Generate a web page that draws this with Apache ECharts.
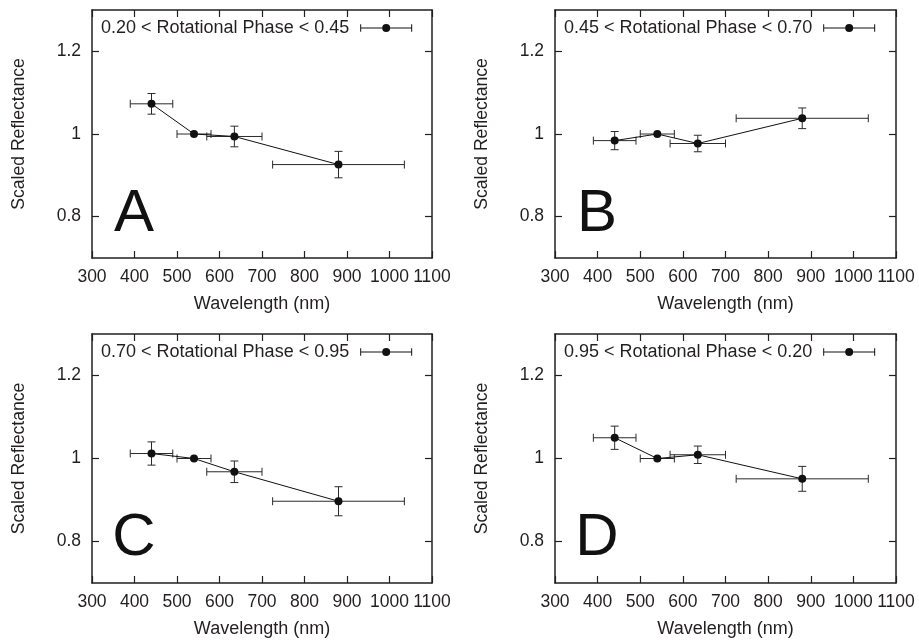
<!DOCTYPE html>
<html>
<head>
<meta charset="utf-8">
<script src="https://cdn.jsdelivr.net/npm/echarts@6/dist/echarts.min.js"></script>
<style>
html,body{margin:0;padding:0;background:#fff;}
#chart{width:919px;height:641px;}
</style>
</head>
<body>
<div id="chart"></div>
<script>
// ---- data ----
var wavelength = [440, 540, 635, 880];
var bandLow    = [390, 500, 570, 725];
var bandHigh   = [490, 580, 700, 1035];

var phaseLabels = [
  "0.20 < Rotational Phase < 0.45",
  "0.45 < Rotational Phase < 0.70",
  "0.70 < Rotational Phase < 0.95",
  "0.95 < Rotational Phase < 0.20"
];
var panelLetters = ["A", "B", "C", "D"];

var reflA = [1.073, 1.000, 0.994, 0.926];
var errA  = [0.025, 0.000, 0.025, 0.032];
var reflB = [0.984, 1.000, 0.977, 1.038];
var errB  = [0.022, 0.000, 0.020, 0.025];
var reflC = [1.012, 1.000, 0.968, 0.897];
var errC  = [0.028, 0.000, 0.026, 0.035];
var reflD = [1.050, 1.000, 1.009, 0.951];
var errD  = [0.028, 0.000, 0.021, 0.030];

var xTicks = [300, 400, 500, 600, 700, 800, 900, 1000, 1100];
var yTicks = [0.8, 1.0, 1.2];

var reflAll = [reflA, reflB, reflC, reflD];
var errAll  = [errA, errB, errC, errD];

// ---- layout ----
var FONT = '"Liberation Sans", Arial, Helvetica, sans-serif';
var INK = '#231f20';
var grids = [
  {left: 92,  top: 10,  width: 340, height: 248},
  {left: 555, top: 10,  width: 341, height: 248},
  {left: 92,  top: 334, width: 340, height: 249},
  {left: 555, top: 334, width: 341, height: 249}
];

var legendIcon = 'path://M0 0.2L1 0.2L1 7.8L0 7.8Z M0 3.5L22.5 3.5L22.5 4.5L0 4.5Z M29.5 3.5L52 3.5L52 4.5L29.5 4.5Z M51 0.2L52 0.2L52 7.8L51 7.8Z M22 4A4 4 0 1 1 30 4A4 4 0 1 1 22 4Z';

var option = {
  animation: false,
  backgroundColor: '#fff',
  textStyle: {fontFamily: FONT, color: INK},
  grid: [], xAxis: [], yAxis: [], series: [], legend: [], graphic: []
};

function errRender(params, api) {
  var x = api.value(0), y = api.value(1);
  var xl = api.value(2), xh = api.value(3), e = api.value(4);
  var c = api.coord([x, y]);
  var pl = api.coord([xl, y]), ph = api.coord([xh, y]);
  var pt = api.coord([x, y + e]), pb = api.coord([x, y - e]);
  var cap = 4;
  var st = {stroke: '#2a2a2a', lineWidth: 1, fill: null};
  var kids = [
    {type: 'line', shape: {x1: pl[0], y1: c[1], x2: ph[0], y2: c[1]}, style: st},
    {type: 'line', shape: {x1: pl[0], y1: c[1] - cap, x2: pl[0], y2: c[1] + cap}, style: st},
    {type: 'line', shape: {x1: ph[0], y1: c[1] - cap, x2: ph[0], y2: c[1] + cap}, style: st}
  ];
  if (e > 0) {
    kids.push({type: 'line', shape: {x1: c[0], y1: pt[1], x2: c[0], y2: pb[1]}, style: st});
    kids.push({type: 'line', shape: {x1: c[0] - cap, y1: pt[1], x2: c[0] + cap, y2: pt[1]}, style: st});
    kids.push({type: 'line', shape: {x1: c[0] - cap, y1: pb[1], x2: c[0] + cap, y2: pb[1]}, style: st});
  }
  return {type: 'group', children: kids};
}

var axisLineStyle = {color: INK, width: 1.5};

for (var i = 0; i < 4; i++) {
  var g = grids[i];
  option.grid.push({left: g.left, top: g.top, width: g.width, height: g.height, containLabel: false});

  // bottom x axis
  option.xAxis.push({
    type: 'value', gridIndex: i, min: 300, max: 1100, interval: 100, position: 'bottom',
    name: 'Wavelength (nm)', nameLocation: 'middle', nameGap: 37,
    nameTextStyle: {fontSize: 18, color: INK, fontFamily: FONT},
    axisLine: {show: true, onZero: false, lineStyle: axisLineStyle},
    axisTick: {show: true, inside: true, length: 7, lineStyle: {color: INK, width: 1.2}},
    axisLabel: {fontSize: 17.5, color: INK, margin: 10, fontFamily: FONT,
      customValues: xTicks, hideOverlap: false, showMinLabel: true, showMaxLabel: true,
      formatter: function (v) { return String(v); }},
    splitLine: {show: false}
  });
  // top mirror axis
  option.xAxis.push({
    type: 'value', gridIndex: i, min: 300, max: 1100, interval: 100, position: 'top',
    axisLine: {show: true, onZero: false, lineStyle: axisLineStyle},
    axisTick: {show: true, inside: true, length: 7, lineStyle: {color: INK, width: 1.2}},
    axisLabel: {show: false},
    splitLine: {show: false}
  });
  // left y axis
  option.yAxis.push({
    type: 'value', gridIndex: i, min: 0.7, max: 1.3, position: 'left',
    name: 'Scaled Reflectance', nameLocation: 'middle', nameGap: 64, nameRotate: 90,
    nameTextStyle: {fontSize: 17.6, color: INK, fontFamily: FONT},
    axisLine: {show: true, onZero: false, lineStyle: axisLineStyle},
    axisTick: {show: true, inside: true, length: 7, customValues: yTicks, lineStyle: {color: INK, width: 1.2}},
    axisLabel: {fontSize: 17.5, color: INK, margin: 11, fontFamily: FONT, customValues: yTicks,
      formatter: function (v) { return String(Math.round(v * 10) / 10); }},
    splitLine: {show: false}
  });
  // right mirror axis
  option.yAxis.push({
    type: 'value', gridIndex: i, min: 0.7, max: 1.3, position: 'right',
    axisLine: {show: true, onZero: false, lineStyle: axisLineStyle},
    axisTick: {show: true, inside: true, length: 7, customValues: yTicks, lineStyle: {color: INK, width: 1.2}},
    axisLabel: {show: false},
    splitLine: {show: false}
  });

  var refl = reflAll[i], err = errAll[i];
  var errData = [], lineData = [];
  for (var k = 0; k < wavelength.length; k++) {
    errData.push([wavelength[k], refl[k], bandLow[k], bandHigh[k], err[k]]);
    lineData.push([wavelength[k], refl[k]]);
  }

  option.series.push({
    name: phaseLabels[i], type: 'custom', xAxisIndex: 2 * i, yAxisIndex: 2 * i,
    renderItem: errRender, data: errData, encode: {x: 0, y: 1},
    itemStyle: {color: '#111'}, z: 2, silent: true
  });
  option.series.push({
    name: phaseLabels[i], type: 'line', xAxisIndex: 2 * i, yAxisIndex: 2 * i,
    data: lineData, symbol: 'circle', symbolSize: 8, showSymbol: true,
    itemStyle: {color: '#111'}, lineStyle: {color: '#111', width: 1}, z: 3, silent: true
  });

  option.legend.push({
    left: g.left + 4, top: g.top + 4, orient: 'horizontal', align: 'right',
    selectedMode: false, itemWidth: 52, itemHeight: 8,
    textStyle: {fontSize: 18, color: INK, fontFamily: FONT, padding: [0, 6, 0, 0]},
    data: [{name: phaseLabels[i], icon: legendIcon, itemStyle: {color: '#111'}}]
  });

  option.graphic.push({
    type: 'text', silent: true,
    x: g.left + 42, y: g.top + 204,
    style: {text: panelLetters[i], fontSize: 60, fontFamily: FONT, fill: '#111',
      align: 'center', verticalAlign: 'middle'}
  });
}

var chart = echarts.init(document.getElementById('chart'), null, {renderer: 'canvas'});
chart.setOption(option);
</script>
</body>
</html>
